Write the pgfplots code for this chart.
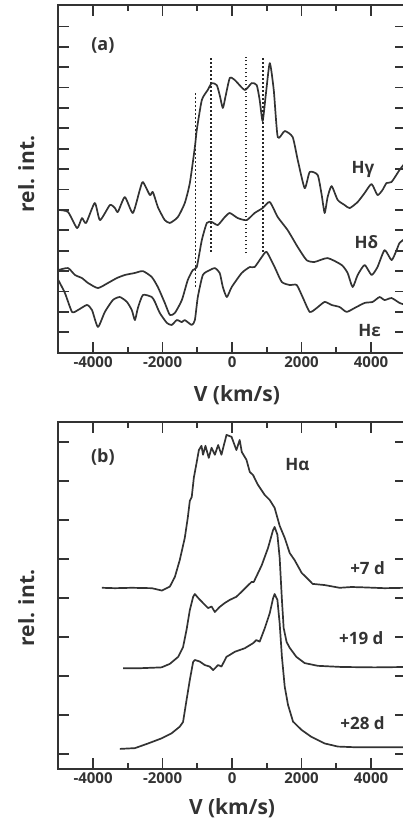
\documentclass[border=0pt]{standalone}
\usepackage{fontspec}
\setmainfont{Open Sans}
\usepackage{pgfplots}
\pgfplotsset{compat=1.18}

\pgfplotsset{
  panel/.style={
    scale only axis, width=347.5pt,
    xmin=-5000, xmax=5000,
    xtick={-4000,-2000,0,2000,4000},
    xticklabels={-4000,-2000,0,2000,4000},
    minor xtick={-3000,-1000,1000,3000},
    tick pos=both, tick align=inside,
    major tick length=11pt, minor tick length=6pt,
    yticklabels={},
    axis line style={line width=2.2pt, black!80},
    tick style={line width=1.8pt, black!80},
    xticklabel style={font=\bfseries\fontsize{15}{17}\selectfont, text=black!80},
    label style={font=\bfseries\fontsize{21}{24}\selectfont, text=black!80},
    xlabel={V (km/s)},
    ylabel={rel. int.},
  },
}
\tikzset{
  spec/.style={black!80, line width=1.7pt, line join=round},
  vmark/.style={black!85, line width=1.8pt, dash pattern=on 1.6pt off 2.4pt},
  lab/.style={font=\bfseries\fontsize{17}{20}\selectfont, text=black!80},
}

\begin{document}
\begin{tikzpicture}
% panel (a)
\begin{axis}[panel, at={(58.3pt,469.3pt)}, anchor=south west,
  height=347.7pt, ymin=0, ymax=17.05, ytick={1,...,16},
  xlabel style={at={(axis description cs:0.514,-0.121)}, anchor=center},
  ylabel style={at={(axis description cs:-0.092,0.514)}, anchor=center}]
% H gamma
\addplot[spec, no markers, smooth, tension=0.35] coordinates {
(-5000,7.00) (-4720,6.90) (-4460,6.11) (-4320,6.60) (-4200,6.36) (-3950,7.34) (-3800,6.50)
(-3515,7.24) (-3370,7.09) (-3285,6.90) (-3085,7.63) (-2855,6.85) (-2655,7.98) (-2565,8.37)
(-2365,7.73) (-2280,7.88) (-2135,7.14) (-2020,6.75) (-1935,6.50) (-1790,6.36) (-1560,6.65)
(-1360,7.34) (-1215,8.32) (-1070,10.08) (-1015,10.92) (-870,12.39) (-700,12.88) (-585,13.22)
(-440,13.12) (-355,12.63) (-265,12.00) (-180,12.63) (-65,13.47) (80,13.37) (365,12.88)
(565,13.22) (710,13.12) (795,12.39) (880,11.36) (970,12.63) (1085,14.20) (1200,12.88)
(1315,10.57) (1515,10.87) (1745,10.57) (1890,9.45) (2090,8.07) (2235,8.86) (2465,8.71)
(2580,7.73) (2665,6.85) (2750,7.63) (2865,8.17) (3040,7.49) (3240,7.24) (3385,7.09)
(3615,7.39) (3815,7.83) (4015,8.27) (4185,7.73) (4330,7.98) (4445,8.32) (4590,8.37)
(4820,8.96) (5000,9.35)
};
% H delta
\addplot[spec, no markers, smooth, tension=0.35] coordinates {
(-5000,4.05) (-4720,4.15) (-4520,3.81) (-4320,3.66) (-4145,3.42) (-3860,3.17) (-3570,3.42)
(-3315,3.66) (-3085,3.81) (-2795,3.91) (-2565,4.00) (-2310,3.71) (-2135,3.22) (-1935,2.44)
(-1790,1.85) (-1645,1.95) (-1445,2.58) (-1275,3.56) (-1130,4.05) (-1015,4.20) (-870,5.52)
(-725,6.36) (-585,6.41) (-410,6.26) (-210,6.65) (-65,6.85) (165,6.60) (420,6.50) (650,6.85)
(880,7.09) (1085,7.39) (1315,6.65) (1600,6.01) (1890,5.18) (2145,4.54) (2375,4.45)
(2750,4.64) (3155,4.30) (3325,3.91) (3470,3.22) (3615,3.81) (3815,4.30) (4015,3.81)
(4185,4.20) (4390,5.03) (4590,4.54) (4735,5.03) (4820,5.38) (5000,5.62)
};
% H epsilon
\addplot[spec, no markers, smooth, tension=0.35] coordinates {
(-5000,3.56) (-4810,2.93) (-4605,2.00) (-4435,2.09) (-4175,2.34) (-4030,2.09) (-3860,1.26)
(-3660,2.00) (-3430,2.58) (-3230,2.73) (-3025,2.49) (-2885,2.09) (-2795,1.60) (-2710,2.19)
(-2565,2.83) (-2310,2.73) (-2220,2.49) (-2080,1.95) (-1875,1.46) (-1735,1.36) (-1590,1.60)
(-1445,1.50) (-1360,1.60) (-1160,1.36) (-1070,1.60) (-985,2.73) (-840,3.81) (-640,4.05)
(-495,4.15) (-355,3.91) (-265,3.22) (-150,2.73) (-10,3.22) (280,3.91) (510,4.20) (650,4.20)
(855,4.69) (995,4.94) (1225,4.20) (1430,3.47) (1660,3.32) (1860,3.32) (2030,2.73)
(2235,2.00) (2435,2.19) (2665,2.49) (2865,2.34) (3095,2.24) (3295,2.00) (3525,2.19)
(3815,2.44) (4045,2.49) (4245,2.73) (4390,2.58) (4590,2.68) (4820,2.44) (5000,2.34)
};
% velocity markers
\addplot[vmark, no markers] coordinates {(-1050,3.24) (-1050,12.79)};
\addplot[vmark, no markers] coordinates {(-610,4.95) (-610,14.5)};
\addplot[vmark, no markers] coordinates {(395,4.87) (395,14.5)};
\addplot[vmark, no markers] coordinates {(890,4.95) (890,14.5)};
\node[lab, font=\bfseries\fontsize{18}{20}\selectfont] at (axis cs:-3716,15.05) {(a)};
\node[lab] at (axis cs:3765,9.0) {Hγ};
\node[lab] at (axis cs:3863,5.44) {Hδ};
\node[lab] at (axis cs:3957,1.11) {Hε};
\end{axis}

% panel (b)
\begin{axis}[panel, at={(58.3pt,53pt)}, anchor=south west,
  height=347pt, ymin=-0.385, ymax=8.51, ytick={0,...,8},
  xlabel style={at={(axis description cs:0.5,-0.112)}, anchor=center},
  ylabel style={at={(axis description cs:-0.092,0.464)}, anchor=center}]
% +7 d
\addplot[spec, no markers] coordinates {
(-3745,4.26) (-3370,4.25) (-2885,4.26) (-2310,4.25) (-2020,4.19) (-1790,4.29) (-1645,4.54)
(-1505,4.97) (-1360,5.54) (-1275,6.05) (-1215,6.49) (-1160,6.59) (-1100,7.08) (-1015,7.49)
(-955,7.79) (-880,7.90) (-835,7.67) (-765,7.90) (-670,7.59) (-590,7.85) (-495,7.67)
(-400,7.92) (-305,7.67) (-160,8.18) (-15,8.13) (125,7.79) (220,8.05) (280,7.74) (415,7.54)
(510,7.23) (605,7.15) (745,6.90) (940,6.64) (1085,6.51) (1225,6.31) (1370,5.85) (1515,5.54)
(1660,5.15) (1800,4.97) (2005,4.64) (2120,4.54) (2320,4.36) (2665,4.33) (3095,4.26)
(3440,4.28) (3815,4.27) (4390,4.25) (5000,4.26)
};
% +19 d
\addplot[spec, no markers] coordinates {
(-3135,2.20) (-2605,2.20) (-2030,2.22) (-1790,2.31) (-1550,2.49) (-1410,2.74) (-1310,3.18)
(-1215,3.69) (-1120,4.03) (-1070,4.10) (-975,4.00) (-835,3.87) (-690,3.74) (-590,3.78)
(-495,3.64) (-355,3.77) (-210,3.87) (-65,3.95) (125,4.03) (335,4.21) (560,4.41) (625,4.41)
(850,4.83) (1035,5.28) (1180,5.74) (1225,5.82) (1305,5.62) (1370,5.03) (1435,3.95)
(1485,3.23) (1570,2.87) (1660,2.72) (1850,2.49) (2090,2.33) (2465,2.26) (3155,2.23)
(4100,2.22) (5000,2.23)
};
% +28 d
\addplot[spec, no markers] coordinates {
(-3230,0.13) (-2795,0.15) (-2415,0.27) (-2030,0.40) (-1740,0.53) (-1505,0.70) (-1410,0.82)
(-1310,1.38) (-1215,1.90) (-1120,2.36) (-1070,2.41) (-930,2.37) (-785,2.28) (-640,2.24)
(-545,2.15) (-400,2.28) (-305,2.24) (-160,2.49) (-65,2.54) (80,2.62) (365,2.71) (605,2.84)
(700,2.92) (795,2.88) (940,3.22) (1085,3.61) (1180,3.99) (1225,4.10) (1305,3.95) (1370,3.35)
(1435,2.49) (1515,1.73) (1610,1.26) (1755,0.83) (1995,0.62) (2280,0.44) (2665,0.27)
(3045,0.19) (3620,0.17) (5000,0.17)
};
\node[lab, font=\bfseries\fontsize{18}{20}\selectfont] at (axis cs:-3716,7.62) {(b)};
\node[lab] at (axis cs:1880,7.41) {Hα};
\node[lab] at (axis cs:3900,4.77) {+7 d};
\node[lab] at (axis cs:3719,2.97) {+19 d};
\node[lab] at (axis cs:3756,0.79) {+28 d};
\end{axis}
\pgfresetboundingbox
\useasboundingbox (0,0) rectangle (402pt,822pt);
\end{tikzpicture}
\end{document}
